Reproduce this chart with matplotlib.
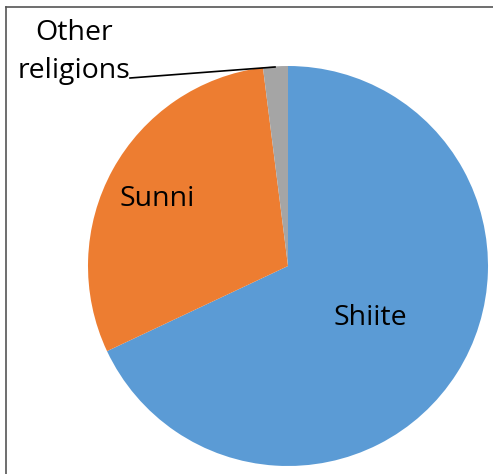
import matplotlib
matplotlib.use('Agg')
import matplotlib.pyplot as plt

labels = ['Shiite', 'Sunni', 'Other religions']
shares = [68.0, 30.0, 2.0]
colors = ['#5B9BD5', '#ED7D31', '#A5A5A5']

plt.rcParams['font.family'] = ['Open Sans', 'DejaVu Sans']

fig = plt.figure(figsize=(4.93, 4.74), dpi=100)
ax = fig.add_axes([88 / 493, 8 / 474, 400 / 493, 400 / 474])
ax.pie(shares, colors=colors, startangle=90, counterclock=False,
       radius=1.0, wedgeprops=dict(linewidth=0))
ax.set_xlim(-1, 1)
ax.set_ylim(-1, 1)
ax.set_aspect('equal')
ax.axis('off')

# labels inside the slices
ax.text(0.41, -0.26, labels[0], fontsize=20.5, ha='center', va='center')
ax.text(-0.655, 0.335, labels[1], fontsize=20.5, ha='center', va='center')

# outside label with leader line
ax.text(-1.07, 1.07, 'Other\nreligions', fontsize=20.5, ha='center',
        va='center', linespacing=1.45, clip_on=False)
ax.plot([-0.79, -0.065], [0.94, 0.995], color='black', lw=1.2, clip_on=False)

# chart frame (only left and top edges fall inside the picture)
fig.add_artist(plt.Line2D([5.5 / 493, 5.5 / 493], [0, 1 - 7 / 474],
                          color='#555555', lw=1.2))
fig.add_artist(plt.Line2D([5.5 / 493, 1], [1 - 7 / 474, 1 - 7 / 474],
                          color='#555555', lw=1.2))

fig.savefig('out.png', dpi=100)
